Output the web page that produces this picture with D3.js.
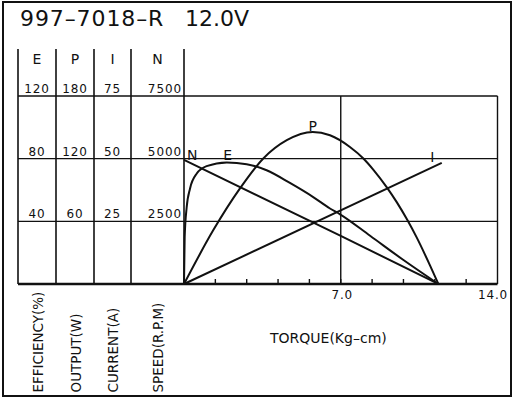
<!DOCTYPE html>
<html>
<head>
<meta charset="utf-8">
<script src="https://cdn.jsdelivr.net/npm/d3@7"></script>
<style>
    body { margin: 0; background: #fff; }
    text { font-family: "DejaVu Sans", sans-serif; fill: #111; }
</style>
</head>
<body>
<svg id="chart" width="516" height="400"></svg>
<script>
// Motor data: 997-7018-R at 12.0V
const modelName = "997–7018–R";
const voltage = "12.0V";

const axisNames = ["E", "P", "I", "N"];
const axisTitles = ["EFFICIENCY(%)", "OUTPUT(W)", "CURRENT(A)", "SPEED(R.P.M)"];
const axisMax = [120, 180, 75, 7500];
const axisTicks = [
    [40, 80, 120],
    [60, 120, 180],
    [25, 50, 75],
    [2500, 5000, 7500]
];

const torqueTicks = [1.4, 2.8, 4.2, 5.6, 7.0, 8.4, 9.8, 11.2, 12.6];
const torqueLabels = [7.0, 14.0];

// [torque kg-cm, value]
const speedData = [[0, 4950], [7.0, 1920], [11.36, 0]];
const currentData = [[0, 0], [11.51, 48.3]];
const outputData = [
    [0, 0], [1.31, 51.6], [2.5, 91.5], [3.54, 120.2], [4.59, 137.7], [5.75, 145.6],
    [6.52, 142.4], [7.41, 131.2], [8.01, 120.2], [8.45, 109.6], [9.05, 92.8], [9.5, 78.4],
    [9.95, 62.2], [10.39, 44.6], [10.99, 17.6], [11.36, 0]
];
const efficiencyData = [
    [0, 0], [0.03, 30], [0.12, 49], [0.27, 61], [0.57, 70.5], [1.01, 75.2], [1.91, 77.6],
    [2.8, 76.5], [3.69, 72.6], [4.73, 64.5], [5.77, 55.5], [6.52, 48.2], [6.97, 44.5],
    [8.31, 30.8], [9.8, 15.3], [11.36, 0]
];

const svg = d3.select("#chart");

// layout
const colEdges = [18, 56, 94, 131, 184];
const plotRight = 497.5;
const plotTop = 96;
const plotBottom = 284;
const headTop = 49;

const x = d3.scaleLinear().domain([0, 14]).range([colEdges[4], plotRight]);
const y = d3.scaleLinear().domain([0, 7500]).range([plotBottom, plotTop]);
// each series gets its own scale sharing the same pixel range
const scaleFor = i => d3.scaleLinear().domain([0, axisMax[i]]).range([plotBottom, plotTop]);
const yE = scaleFor(0), yP = scaleFor(1), yI = scaleFor(2), yN = scaleFor(3);

// outer border
svg.append("rect")
    .attr("x", 3).attr("y", 2)
    .attr("width", 508).attr("height", 394)
    .attr("fill", "none")
    .attr("stroke", "#111")
    .attr("stroke-width", 2);

// title
svg.append("text").attr("x", 20).attr("y", 26)
    .style("font-size", "22px").style("letter-spacing", "0.9px")
    .text(modelName);
svg.append("text").attr("x", 185).attr("y", 26)
    .style("font-size", "22px")
    .text(voltage);

const grid = svg.append("g").attr("stroke", "#111").attr("fill", "none");

// column separators
grid.selectAll(".col")
    .data(colEdges)
    .enter()
    .append("line")
    .attr("x1", d => d).attr("x2", d => d)
    .attr("y1", headTop).attr("y2", plotBottom)
    .attr("stroke-width", 1.6);

// horizontal grid lines
grid.selectAll(".hline")
    .data(axisTicks[3])
    .enter()
    .append("line")
    .attr("x1", colEdges[0]).attr("x2", plotRight)
    .attr("y1", d => y(d)).attr("y2", d => y(d))
    .attr("stroke-width", 1.4);

// vertical lines at labelled torque
grid.selectAll(".vline")
    .data(torqueLabels)
    .enter()
    .append("line")
    .attr("x1", d => x(d)).attr("x2", d => x(d))
    .attr("y1", plotTop).attr("y2", plotBottom)
    .attr("stroke-width", 1.4);

// base line
grid.append("line")
    .attr("x1", colEdges[0]).attr("x2", plotRight)
    .attr("y1", plotBottom).attr("y2", plotBottom)
    .attr("stroke-width", 2.4);

// torque ticks
grid.selectAll(".tick")
    .data(torqueTicks)
    .enter()
    .append("line")
    .attr("x1", d => x(d)).attr("x2", d => x(d))
    .attr("y1", plotBottom).attr("y2", plotBottom - 5)
    .attr("stroke-width", 1.4);

// torque labels
svg.selectAll(".tlabel")
    .data(torqueLabels)
    .enter()
    .append("text")
    .attr("x", (d, i) => i === torqueLabels.length - 1 ? 508 : x(d) + 1.5)
    .attr("y", 298.5)
    .attr("text-anchor", (d, i) => i === torqueLabels.length - 1 ? "end" : "middle")
    .style("font-size", "12px").style("letter-spacing", "0.8px")
    .text(d => d.toFixed(1));

svg.append("text")
    .attr("x", 270).attr("y", 343)
    .style("font-size", "14px")
    .text("TORQUE(Kg–cm)");

// left scale columns
const colCenter = i => (colEdges[i] + colEdges[i + 1]) / 2;

axisNames.forEach((name, i) => {
    svg.append("text")
        .attr("x", colCenter(i)).attr("y", 63.5)
        .attr("text-anchor", "middle")
        .style("font-size", "14px")
        .text(name);

    const last = i === axisNames.length - 1;
    const sc = scaleFor(i);
    svg.selectAll(".val" + i)
        .data(axisTicks[i])
        .enter()
        .append("text")
        .attr("x", last ? colEdges[i + 1] - 2 : colCenter(i))
        .attr("y", d => sc(d) - 3)
        .attr("text-anchor", last ? "end" : "middle")
        .style("font-size", "12px").style("letter-spacing", "0.9px")
        .text(d => d);

    svg.append("text")
        .attr("transform", "translate(" + (colCenter(i) + 5.5) + ",392.5) rotate(-90)")
        .style("font-size", "13.5px")
        .text(axisTitles[i]);
});

// curves
const curves = svg.append("g")
    .attr("fill", "none")
    .attr("stroke", "#111")
    .attr("stroke-width", 2)
    .attr("stroke-linejoin", "round");

const drawSeries = (data, ys) => curves.append("path")
    .datum(data)
    .attr("d", d3.line().x(d => x(d[0])).y(d => ys(d[1])).curve(d3.curveMonotoneX));

drawSeries(speedData, yN);
drawSeries(currentData, yI);
drawSeries(outputData, yP);
drawSeries(efficiencyData, yE);

// curve labels
const peak = data => data.reduce((a, b) => b[1] > a[1] ? b : a);
const eTop = peak(efficiencyData);
const pTop = peak(outputData);
const iEnd = currentData[currentData.length - 1];

const curveLabel = (tx, ty, txt, anchor) => svg.append("text")
    .attr("x", tx).attr("y", ty)
    .attr("text-anchor", anchor)
    .style("font-size", "14px")
    .text(txt);

curveLabel(x(speedData[0][0]) + 3, yN(speedData[0][1]) + 0.5, "N", "start");
curveLabel(x(eTop[0]) + 1, yE(eTop[1]) - 2, "E", "middle");
curveLabel(x(pTop[0]), yP(pTop[1]) - 0.5, "P", "middle");
curveLabel(x(iEnd[0]) - 9.5, yI(iEnd[1]) - 0.5, "I", "middle");
</script>
</body>
</html>
